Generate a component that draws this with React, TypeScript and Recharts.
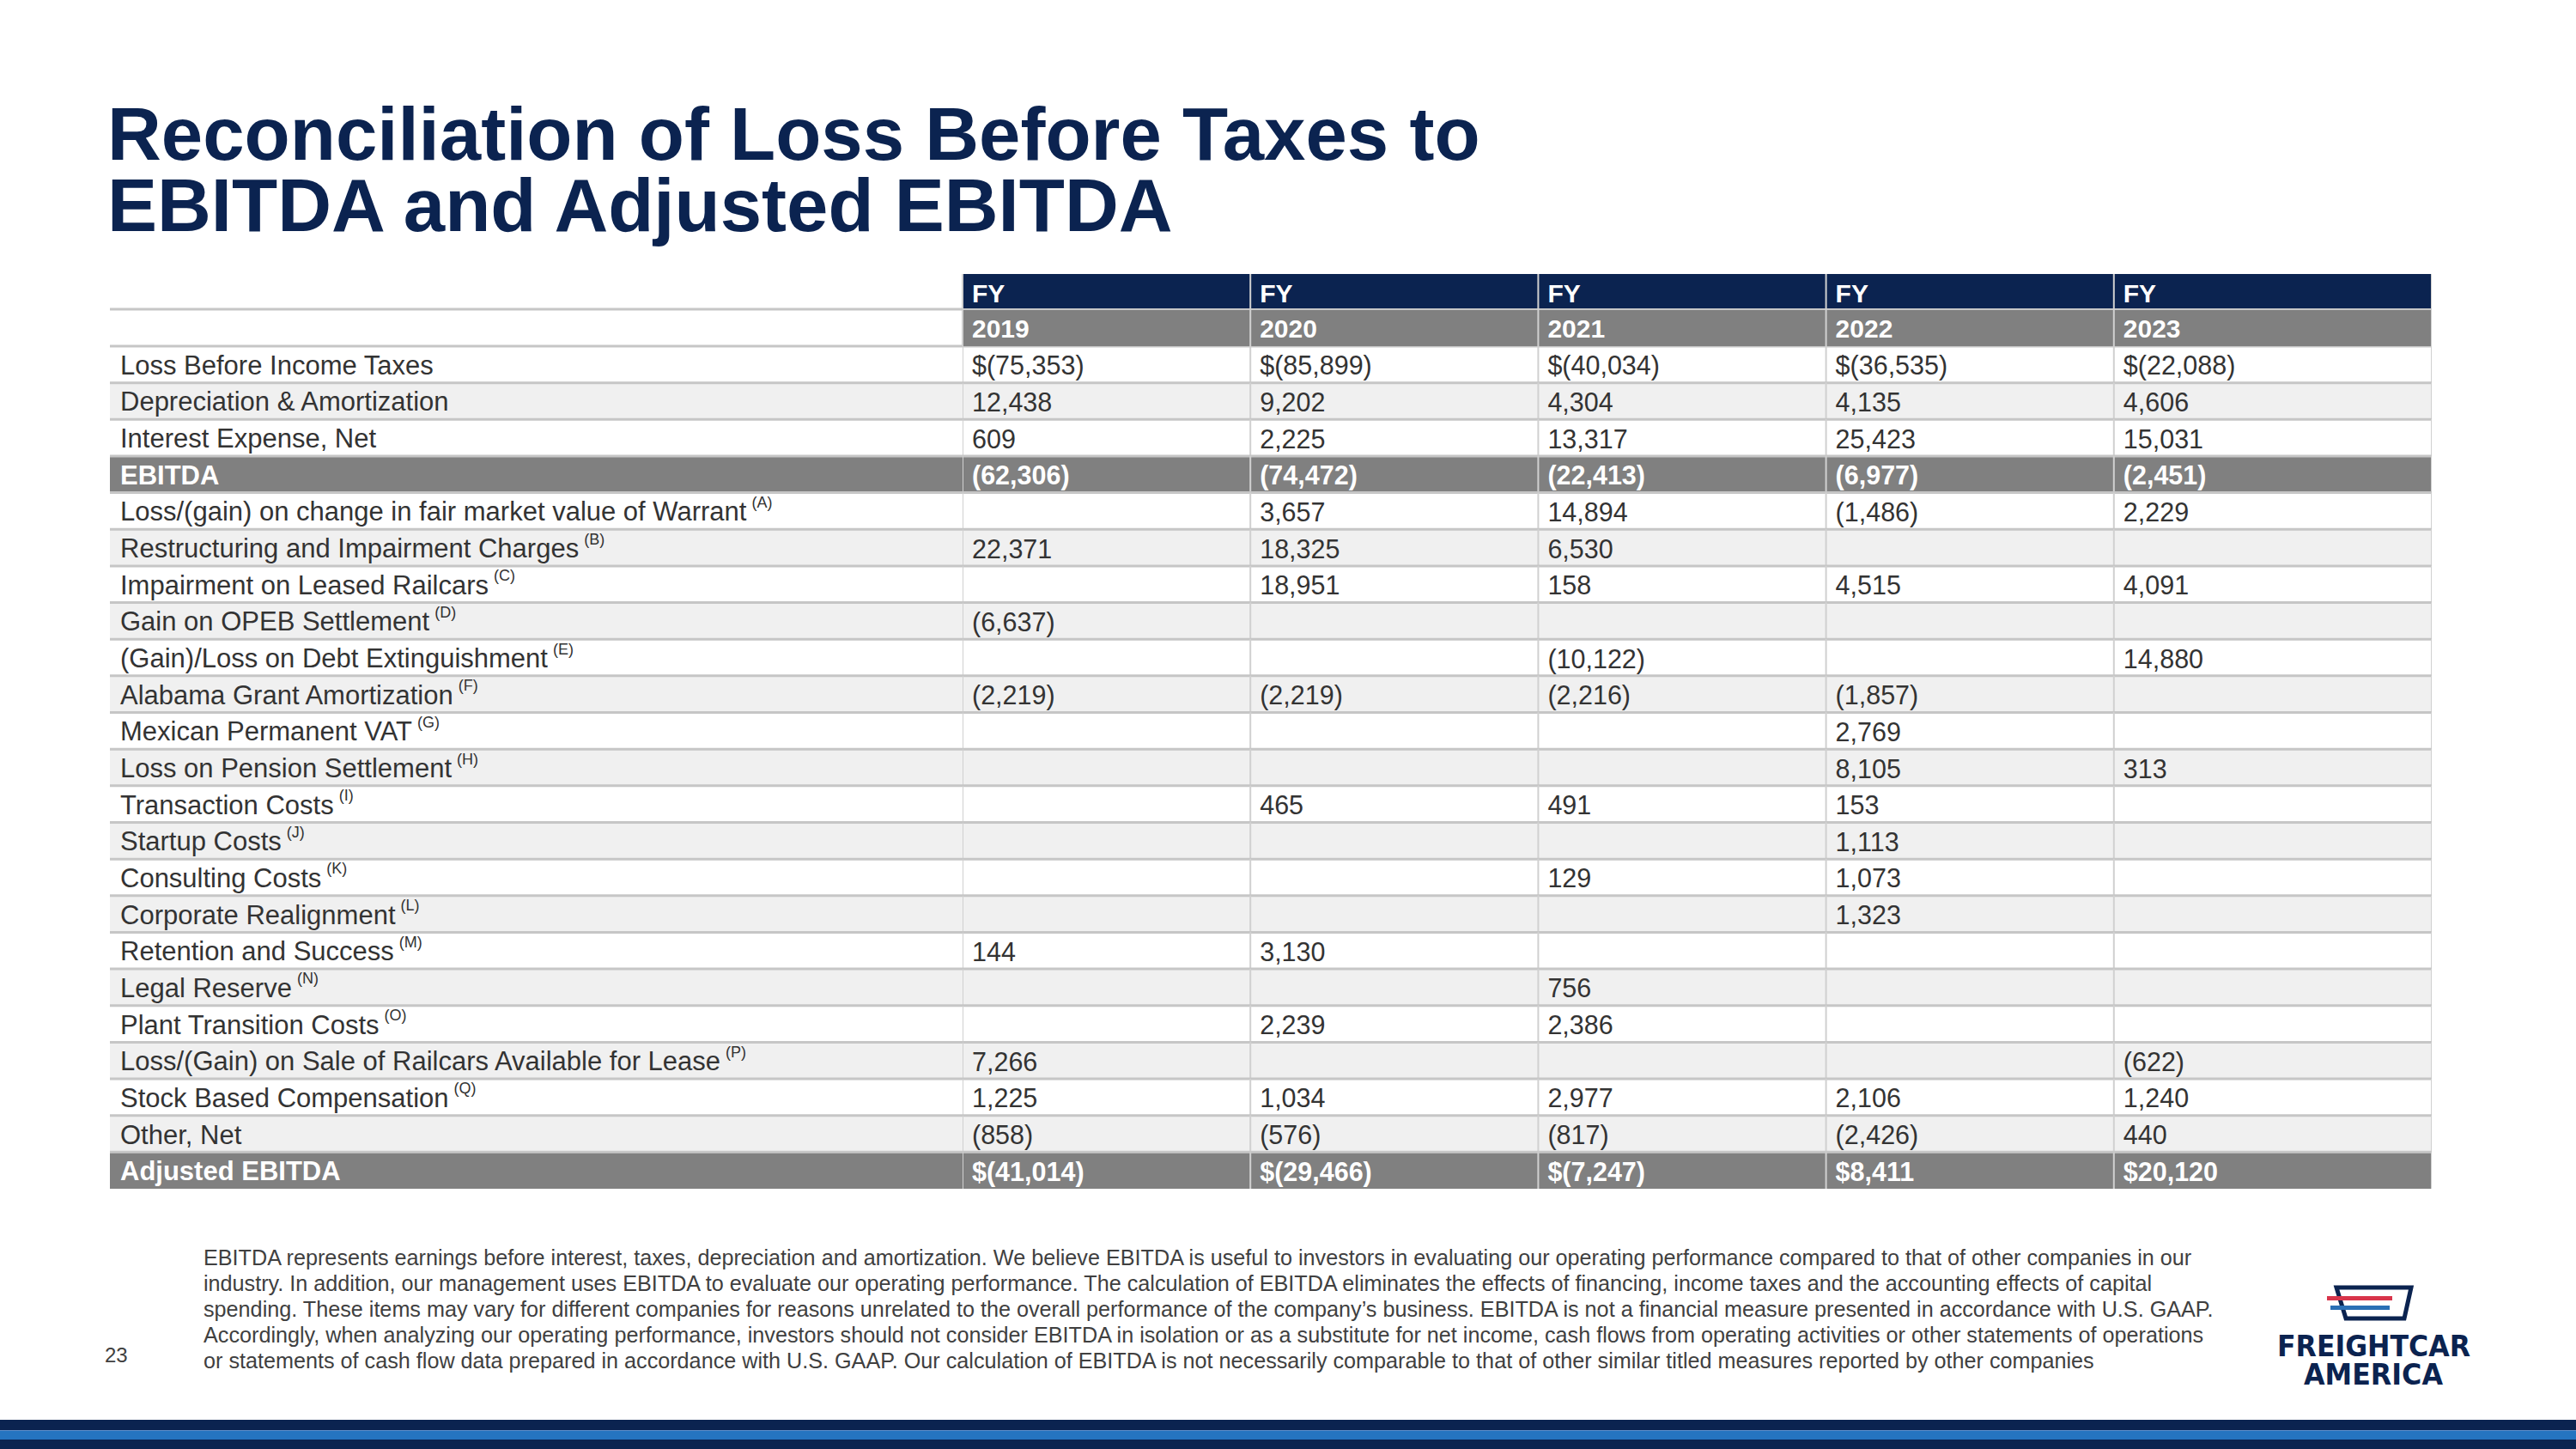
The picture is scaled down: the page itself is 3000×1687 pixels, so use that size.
import React from "react";
import { Scatter, ScatterChart, XAxis, YAxis } from "recharts";

const years = [2019, 2020, 2021, 2022, 2023];

const rowLabels = [
  "Loss Before Income Taxes",
  "Depreciation & Amortization",
  "Interest Expense, Net",
  "EBITDA",
  "Loss/(gain) on change in fair market value of Warrant",
  "Restructuring and Impairment Charges",
  "Impairment on Leased Railcars",
  "Gain on OPEB Settlement",
  "(Gain)/Loss on Debt Extinguishment",
  "Alabama Grant Amortization",
  "Mexican Permanent VAT",
  "Loss on Pension Settlement",
  "Transaction Costs",
  "Startup Costs",
  "Consulting Costs",
  "Corporate Realignment",
  "Retention and Success",
  "Legal Reserve",
  "Plant Transition Costs",
  "Loss/(Gain) on Sale of Railcars Available for Lease",
  "Stock Based Compensation",
  "Other, Net",
  "Adjusted EBITDA",
];

const rowNotes = ["", "", "", "", "A", "B", "C", "D", "E", "F", "G", "H", "I", "J", "K", "L", "M", "N", "O", "P", "Q", "", ""];

const totalRows = ["EBITDA", "Adjusted EBITDA"];
const dollarRows = ["Loss Before Income Taxes", "Adjusted EBITDA"];

const fy2019 = [-75353, 12438, 609, -62306, null, 22371, null, -6637, null, -2219, null, null, null, null, null, null, 144, null, null, 7266, 1225, -858, -41014];
const fy2020 = [-85899, 9202, 2225, -74472, 3657, 18325, 18951, null, null, -2219, null, null, 465, null, null, null, 3130, null, 2239, null, 1034, -576, -29466];
const fy2021 = [-40034, 4304, 13317, -22413, 14894, 6530, 158, null, -10122, -2216, null, null, 491, null, 129, null, null, 756, 2386, null, 2977, -817, -7247];
const fy2022 = [-36535, 4135, 25423, -6977, -1486, null, 4515, null, null, -1857, 2769, 8105, 153, 1113, 1073, 1323, null, null, null, null, 2106, -2426, 8411];
const fy2023 = [-22088, 4606, 15031, -2451, 2229, null, 4091, null, 14880, null, null, 313, null, null, null, null, null, null, null, -622, 1240, 440, 20120];

const seriesByYear = [fy2019, fy2020, fy2021, fy2022, fy2023];

const footnoteLines = [
  "EBITDA represents earnings before interest, taxes, depreciation and amortization. We believe EBITDA is useful to investors in evaluating our operating performance compared to that of other companies in our",
  "industry. In addition, our management uses EBITDA to evaluate our operating performance. The calculation of EBITDA eliminates the effects of financing, income taxes and the accounting effects of capital",
  "spending. These items may vary for different companies for reasons unrelated to the overall performance of the company\u2019s business. EBITDA is not a financial measure presented in accordance with U.S. GAAP.",
  "Accordingly, when analyzing our operating performance, investors should not consider EBITDA in isolation or as a substitute for net income, cash flows from operating activities or other statements of operations",
  "or statements of cash flow data prepared in accordance with U.S. GAAP. Our calculation of EBITDA is not necessarily comparable to that of other similar titled measures reported by other companies",
];

// layout
const NAVY = "#0b2350";
const TOTAL_GRAY = "#808080";
const LIGHT = "#f0f0f0";
const HBORDER = "#c6c6c6";
const VBORDER = "#d0d0d0";
const TEXT = "#333333";
const FONT = "'Liberation Sans', Arial, sans-serif";

const LABEL_W = 993;
const HEAD_H = 84;
const FY_H = 41;
const PLOT_W = 1676;
const LAST_EXTRA = 35;
const BODY_H = 981;
const CHART_W = LABEL_W + PLOT_W + LAST_EXTRA;
const CHART_H = HEAD_H + BODY_H;
const COL_W = PLOT_W / years.length;
const ROW_H = BODY_H / rowLabels.length;

const cells = rowLabels.flatMap((label, r) =>
  years.map((year, c) => ({ year, row: r, label, value: seriesByYear[c][r] }))
);

function formatValue(v, dollar) {
  if (v === null || v === undefined) return "";
  const s = Math.abs(v).toLocaleString("en-US");
  const body = v < 0 ? `(${s})` : s;
  return dollar ? `$${body}` : body;
}

function rowFill(r) {
  if (totalRows.includes(rowLabels[r])) return TOTAL_GRAY;
  return r % 2 ? LIGHT : "#ffffff";
}

function CellShape(props) {
  const { cx, cy, payload } = props;
  if (cx == null || cy == null) return null;
  const isLast = payload.year === years[years.length - 1];
  const w = COL_W + (isLast ? LAST_EXTRA : 0);
  const x0 = cx - COL_W / 2;
  const y0 = cy - ROW_H / 2;
  const total = totalRows.includes(payload.label);
  return (
    <g>
      <rect x={x0} y={y0} width={w} height={ROW_H} fill={rowFill(payload.row)} />
      <line x1={x0} x2={x0 + w} y1={y0} y2={y0} stroke={HBORDER} strokeWidth={3} />
      <line x1={x0} x2={x0} y1={y0} y2={y0 + ROW_H} stroke={VBORDER} strokeWidth={2} />
      {isLast && <line x1={x0 + w} x2={x0 + w} y1={y0} y2={y0 + ROW_H} stroke={VBORDER} strokeWidth={2} />}
      <text
        x={x0 + 11}
        y={cy + 1}
        dominantBaseline="central"
        fontFamily={FONT}
        fontSize={30.5}
        fontWeight={total ? 700 : 400}
        fill={total ? "#ffffff" : TEXT}
      >
        {formatValue(payload.value, dollarRows.includes(payload.label))}
      </text>
    </g>
  );
}

function LabelTick(props) {
  const { x, y, payload } = props;
  const r = payload.value;
  const label = rowLabels[r];
  const note = rowNotes[r];
  const total = totalRows.includes(label);
  const x0 = x - LABEL_W;
  const y0 = y - ROW_H / 2;
  return (
    <g>
      <rect x={x0} y={y0} width={LABEL_W} height={ROW_H} fill={rowFill(r)} />
      <line x1={x0} x2={x} y1={y0} y2={y0} stroke={HBORDER} strokeWidth={3} />
      {r === 0 && (
        <line x1={x0} x2={x} y1={y0 - (HEAD_H - FY_H)} y2={y0 - (HEAD_H - FY_H)} stroke={HBORDER} strokeWidth={3} />
      )}
      <text
        x={x0 + 12}
        y={y + 1}
        dominantBaseline="central"
        fontFamily={FONT}
        fontSize={31}
        fontWeight={total ? 700 : 400}
        fill={total ? "#ffffff" : TEXT}
      >
        {label}
        {note && (
          <tspan dx={6} dy={-11} fontSize={18}>
            ({note})
          </tspan>
        )}
      </text>
    </g>
  );
}

function YearTick(props) {
  const { x, y, payload } = props;
  const isLast = payload.value === years[years.length - 1];
  const w = COL_W + (isLast ? LAST_EXTRA : 0);
  const x0 = x - COL_W / 2;
  const top = y - HEAD_H;
  return (
    <g>
      <rect x={x0} y={top} width={w} height={FY_H} fill={NAVY} />
      <rect x={x0} y={top + FY_H} width={w} height={HEAD_H - FY_H} fill={TOTAL_GRAY} />
      <line x1={x0} x2={x0 + w} y1={top + FY_H} y2={top + FY_H} stroke={HBORDER} strokeWidth={2} />
      <line x1={x0} x2={x0} y1={top} y2={y} stroke={VBORDER} strokeWidth={2} />
      {isLast && <line x1={x0 + w} x2={x0 + w} y1={top} y2={y} stroke={VBORDER} strokeWidth={2} />}
      <text x={x0 + 11} y={top + 33} fontFamily={FONT} fontSize={30} fontWeight={700} fill="#ffffff">
        FY
      </text>
      <text x={x0 + 11} y={top + 74} fontFamily={FONT} fontSize={30} fontWeight={700} fill="#ffffff">
        {payload.value}
      </text>
    </g>
  );
}

function Logo() {
  return (
    <svg width={260} height={130} style={{ position: "absolute", left: 2640, top: 1490 }}>
      <polygon points="81,9 168,9 160,45 92,45" fill="none" stroke={NAVY} strokeWidth={5} />
      <rect x={70} y={19} width={76} height={5} fill="#d8344a" />
      <rect x={74} y={30} width={69} height={5} fill="#2a6fb5" />
      <text
        x={12}
        y={89}
        fontFamily="'DejaVu Sans', sans-serif"
        fontWeight={700}
        fontSize={33}
        fill={NAVY}
        textLength={225}
        lengthAdjust="spacingAndGlyphs"
      >
        FREIGHTCAR
      </text>
      <text
        x={43}
        y={122}
        fontFamily="'DejaVu Sans', sans-serif"
        fontWeight={700}
        fontSize={33}
        fill={NAVY}
        textLength={162}
        lengthAdjust="spacingAndGlyphs"
      >
        AMERICA
      </text>
    </svg>
  );
}

export default function App() {
  return (
    <div
      style={{
        position: "absolute",
        left: 0,
        top: 0,
        width: 3000,
        height: 1687,
        background: "#ffffff",
        overflow: "hidden",
        fontFamily: FONT,
      }}
    >
      <div
        style={{
          position: "absolute",
          left: 125,
          top: 114,
          fontSize: 87,
          lineHeight: "83px",
          fontWeight: 700,
          color: NAVY,
          whiteSpace: "nowrap",
        }}
      >
        <div>Reconciliation of Loss Before Taxes to</div>
        <div>EBITDA and Adjusted EBITDA</div>
      </div>

      <div style={{ position: "absolute", left: 128, top: 319 }}>
        <ScatterChart width={CHART_W} height={CHART_H} margin={{ top: 0, right: LAST_EXTRA, bottom: 0, left: 0 }}>
          <XAxis
            type="number"
            dataKey="year"
            orientation="top"
            domain={[years[0] - 0.5, years[years.length - 1] + 0.5]}
            ticks={years}
            interval={0}
            height={HEAD_H}
            axisLine={false}
            tickLine={false}
            tickSize={0}
            tickMargin={0}
            tick={<YearTick />}
          />
          <YAxis
            type="number"
            dataKey="row"
            reversed
            domain={[-0.5, rowLabels.length - 0.5]}
            ticks={rowLabels.map((_, i) => i)}
            interval={0}
            width={LABEL_W}
            axisLine={false}
            tickLine={false}
            tickSize={0}
            tickMargin={0}
            tick={<LabelTick />}
          />
          <Scatter data={cells} shape={<CellShape />} isAnimationActive={false} />
        </ScatterChart>
      </div>

      <div style={{ position: "absolute", left: 237, top: 1449, fontSize: 25.2, lineHeight: "30px", color: "#404040", whiteSpace: "nowrap" }}>
        {footnoteLines.map((line) => (
          <div key={line}>{line}</div>
        ))}
      </div>
      <div style={{ position: "absolute", left: 122, top: 1563, fontSize: 24, lineHeight: "30px", color: "#404040" }}>23</div>

      <Logo />

      <div style={{ position: "absolute", left: 0, top: 1653, width: 3000, height: 34, background: NAVY }} />
      <div style={{ position: "absolute", left: 0, top: 1665, width: 3000, height: 1, background: "#5d8fcc" }} />
      <div style={{ position: "absolute", left: 0, top: 1666, width: 3000, height: 10, background: "#2574c0" }} />
    </div>
  );
}
